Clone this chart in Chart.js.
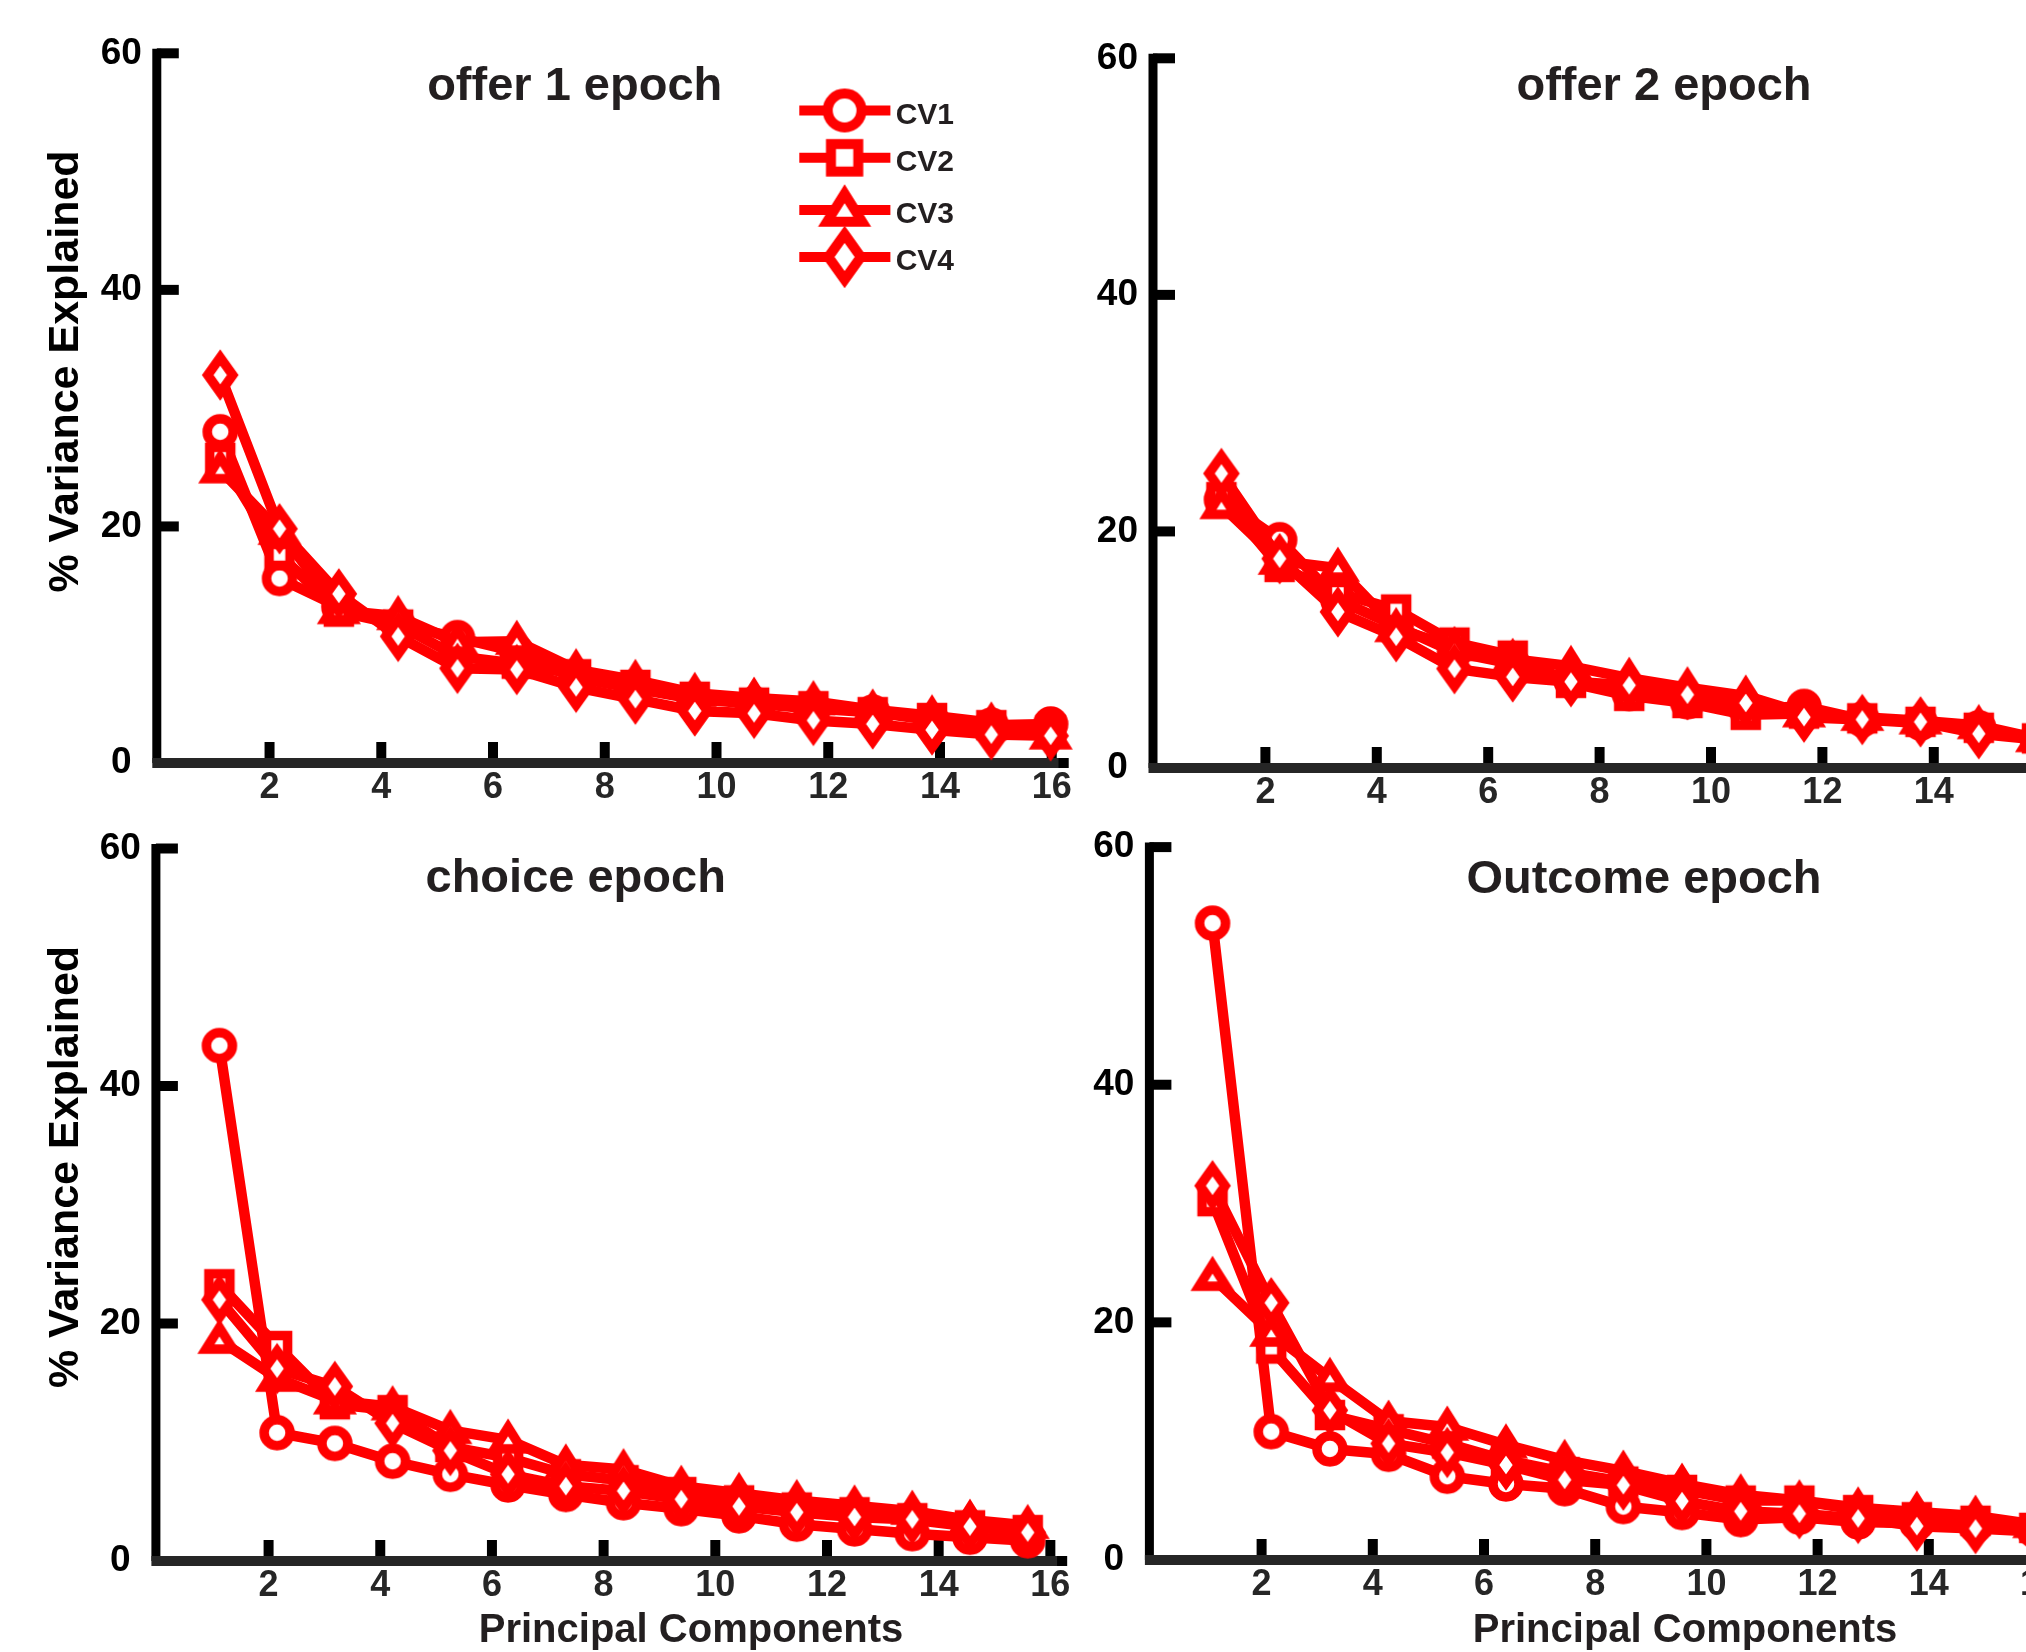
<!DOCTYPE html>
<html>
<head>
<meta charset="utf-8">
<title>% Variance Explained by Principal Components</title>
<script src="https://cdn.jsdelivr.net/npm/chart.js@4.4.1/dist/chart.umd.min.js"></script>
<style>
  html, body { margin: 0; padding: 0; background: #fff; overflow: hidden; }
  body { position: relative; width: 2026px; height: 1652px; }
  canvas { position: absolute; }
</style>
</head>
<body>
<canvas id="offer1"></canvas>
<canvas id="offer2"></canvas>
<canvas id="choice"></canvas>
<canvas id="outcome"></canvas>
<script>
// ---- data -------------------------------------------------------------
const components = [1, 2, 3, 4, 5, 6, 7, 8, 9, 10, 11, 12, 13, 14, 15];
const xTickLabels = [2, 4, 6, 8, 10, 12, 14, 16];
const yTickLabels = [0, 20, 40, 60];
const seriesNames = ['CV1', 'CV2', 'CV3', 'CV4'];

const offer1CV1 = [28.0, 15.6, 13.2, 11.7, 10.6, 9.4, 7.2, 6.3, 5.4, 5.0, 4.6, 4.3, 3.6, 3.2, 3.3];
const offer1CV2 = [25.8, 17.6, 12.8, 11.7, 9.0, 8.4, 7.5, 6.6, 5.6, 5.1, 4.8, 4.3, 3.8, 3.2, 2.8];
const offer1CV3 = [24.8, 19.6, 12.9, 12.4, 10.2, 10.3, 7.9, 7.0, 5.9, 5.5, 5.2, 4.5, 4.0, 3.4, 2.3];
const offer1CV4 = [32.8, 19.8, 14.3, 10.7, 8.0, 7.9, 6.4, 5.4, 4.4, 4.2, 3.6, 3.3, 2.8, 2.4, 2.3];

const offer2CV1 = [22.7, 19.3, 14.2, 12.0, 9.8, 8.8, 7.4, 6.3, 5.6, 5.0, 5.2, 4.1, 3.8, 3.4, 2.5];
const offer2CV2 = [22.9, 17.0, 14.8, 13.4, 10.6, 9.5, 7.2, 6.1, 5.5, 4.5, 4.6, 4.2, 3.9, 3.4, 2.5];
const offer2CV3 = [22.2, 17.5, 16.9, 11.8, 10.2, 9.2, 8.6, 7.6, 6.8, 6.1, 4.6, 4.3, 4.0, 3.6, 2.5];
const offer2CV4 = [24.9, 17.7, 13.2, 11.1, 8.4, 7.7, 7.3, 7.0, 6.2, 5.5, 4.3, 4.1, 3.9, 2.9, 2.4];

const choiceCV1 = [43.4, 10.8, 9.9, 8.4, 7.3, 6.4, 5.6, 4.9, 4.4, 3.8, 3.1, 2.7, 2.3, 2.0, 1.7];
const choiceCV2 = [23.3, 18.1, 13.2, 12.7, 9.6, 8.7, 7.3, 6.8, 5.8, 5.1, 4.5, 4.1, 3.6, 3.0, 2.6];
const choiceCV3 = [18.6, 15.4, 13.5, 13.0, 11.0, 10.2, 8.1, 7.7, 6.3, 5.7, 5.1, 4.65, 4.2, 3.45, 3.0];
const choiceCV4 = [22.0, 16.2, 14.7, 11.6, 9.3, 7.3, 6.3, 5.9, 5.2, 4.6, 4.1, 3.7, 3.5, 2.9, 2.4];

const outcomeCV1 = [53.6, 10.8, 9.35, 8.9, 7.05, 6.4, 6.0, 4.5, 4.0, 3.4, 3.6, 3.2, 3.1, 2.9, 2.5];
const outcomeCV2 = [30.2, 17.8, 12.2, 11.0, 9.8, 8.4, 7.4, 6.6, 5.9, 5.0, 5.0, 4.2, 3.6, 3.3, 2.7];
const outcomeCV3 = [23.8, 19.1, 15.3, 11.7, 11.2, 9.7, 8.4, 7.5, 6.4, 5.5, 5.0, 4.4, 4.05, 3.7, 3.0];
const outcomeCV4 = [31.5, 21.65, 12.6, 9.8, 9.05, 8.0, 6.75, 6.3, 4.95, 4.1, 3.9, 3.5, 2.85, 2.65, 2.4];

// ---- styling ----------------------------------------------------------
const RED = '#ff0000';
const FONT = '"Liberation Sans", Arial, Helvetica, sans-serif';
const markerShapes = ['circle', 'square', 'triangle', 'diamond'];

// White-filled, red-outlined markers in the style of the figure
function makeMarker(shape, scale, lw) {
  const size = Math.ceil(88 * scale / 2) * 2;
  const c = document.createElement('canvas');
  c.width = size; c.height = size;
  const g = c.getContext('2d');
  g.translate(size / 2, size / 2);
  g.lineWidth = lw;
  g.strokeStyle = RED;
  g.fillStyle = '#ffffff';
  g.lineJoin = 'miter';
  g.beginPath();
  if (shape === 'circle') {
    g.arc(0, 0, 13 * scale, 0, Math.PI * 2);
  } else if (shape === 'square') {
    g.rect(-10.5 * scale, -10.5 * scale, 21 * scale, 21 * scale);
  } else if (shape === 'triangle') {
    g.moveTo(0, -12.5 * scale);
    g.lineTo(13.5 * scale, 9 * scale);
    g.lineTo(-13.5 * scale, 9 * scale);
    g.closePath();
  } else {
    g.moveTo(0, -17.5 * scale);
    g.lineTo(12.5 * scale, 0);
    g.lineTo(0, 17.5 * scale);
    g.lineTo(-12.5 * scale, 0);
    g.closePath();
  }
  g.fill();
  g.stroke();
  return c;
}
const dataMarkers = markerShapes.map(s => makeMarker(s, 1, 9.5));
const legendMarkers = markerShapes.map(s => makeMarker(s, 1.3, 10));

// ---- axes, labels and legend drawn in the figure's own style -----------
const panelDecor = {
  id: 'panelDecor',
  beforeDatasetsDraw(chart, args, o) {
    const { ctx, chartArea } = chart;
    const xs = chart.scales.x, ys = chart.scales.y;
    const ax = xs.getPixelForValue(0) - 1;
    const y0 = ys.getPixelForValue(0);
    const yTop = ys.getPixelForValue(yTickLabels[yTickLabels.length - 1]);
    ctx.save();
    ctx.lineCap = 'butt';
    // vertical axis
    ctx.strokeStyle = '#000';
    ctx.lineWidth = 9;
    ctx.beginPath();
    ctx.moveTo(ax, yTop - 4.5);
    ctx.lineTo(ax, y0);
    ctx.stroke();
    // inward y ticks
    ctx.lineWidth = 10;
    yTickLabels.forEach(v => {
      const py = ys.getPixelForValue(v);
      ctx.beginPath();
      ctx.moveTo(ax, py);
      ctx.lineTo(ax + 22, py);
      ctx.stroke();
    });
    // inward x ticks
    xTickLabels.forEach(v => {
      const px = xs.getPixelForValue(v);
      ctx.beginPath();
      ctx.moveTo(px, y0);
      ctx.lineTo(px, y0 - 21);
      ctx.stroke();
    });
    // horizontal axis
    ctx.strokeStyle = '#262626';
    ctx.beginPath();
    ctx.moveTo(ax - 4.5, y0);
    ctx.lineTo(chartArea.right, y0);
    ctx.stroke();
    ctx.fillStyle = '#000';
    ctx.fillRect(chartArea.right - 10, y0 - 5, 10, 10);
    ctx.restore();
  },
  afterDraw(chart, args, o) {
    const { ctx } = chart;
    ctx.save();
    ctx.fillStyle = '#231f20';
    ctx.textBaseline = 'alphabetic';
    // panel title
    ctx.font = 'bold 47px ' + FONT;
    ctx.textAlign = 'center';
    ctx.fillText(o.title, o.titleX, o.titleBaseline);
    // x-axis title
    if (o.xLabel) {
      ctx.font = 'bold 40px ' + FONT;
      ctx.fillText(o.xLabel, o.xLabelX, o.xLabelBaseline);
    }
    // y-axis title
    if (o.yLabel) {
      ctx.save();
      ctx.fillStyle = '#000';
      ctx.font = 'bold 43px ' + FONT;
      ctx.translate(o.yLabelBaseline, o.yLabelY);
      ctx.rotate(-Math.PI / 2);
      ctx.fillText(o.yLabel, 0, 0);
      ctx.restore();
    }
    // legend
    if (o.legend) {
      const L = o.legend;
      ctx.font = 'bold 30px ' + FONT;
      ctx.textAlign = 'left';
      seriesNames.forEach((name, i) => {
        const ry = L.rows[i];
        ctx.strokeStyle = RED;
        ctx.lineWidth = 10;
        ctx.beginPath();
        ctx.moveTo(L.lineStart, ry);
        ctx.lineTo(L.lineEnd, ry);
        ctx.stroke();
        const m = legendMarkers[i];
        ctx.drawImage(m, L.markerX - m.width / 2, ry - m.height / 2);
        ctx.fillStyle = '#231f20';
        ctx.fillText(name, L.textX, ry + 13);
      });
    }
    ctx.restore();
  }
};

// ---- panel geometry (pixels within each canvas) -------------------------
const panels = [
  { id: 'offer1', left: 0, top: 0, width: 1100, height: 815,
    x0: 157.8, right: 1068.5, yTop: 53.3, yBottom: 763,
    pcStart: 1.117, pcStep: 1.0617,
    series: [offer1CV1, offer1CV2, offer1CV3, offer1CV4],
    decor: { title: 'offer 1 epoch', titleX: 574.7, titleBaseline: 100,
             yLabel: '% Variance Explained', yLabelBaseline: 77.5, yLabelY: 371.5,
             legend: { rows: [110.5, 157.8, 210, 257], lineStart: 799.3, lineEnd: 890.4,
                       markerX: 844.6, textX: 895.7 } } },
  { id: 'offer2', left: 1085, top: 0, width: 1000, height: 815,
    x0: 69, right: 976.9, yTop: 58.3, yBottom: 768,
    pcStart: 1.21, pcStep: 1.046,
    series: [offer2CV1, offer2CV2, offer2CV3, offer2CV4],
    decor: { title: 'offer 2 epoch', titleX: 1664 - 1085, titleBaseline: 100 } },
  { id: 'choice', left: 0, top: 815, width: 1100, height: 837,
    x0: 156.9, right: 1067.1, yTop: 33.5, yBottom: 746,
    pcStart: 1.119, pcStep: 1.034,
    series: [choiceCV1, choiceCV2, choiceCV3, choiceCV4],
    decor: { title: 'choice epoch', titleX: 575.7, titleBaseline: 892 - 815,
             yLabel: '% Variance Explained', yLabelBaseline: 77.5, yLabelY: 1167 - 815,
             xLabel: 'Principal Components', xLabelX: 691, xLabelBaseline: 1641.6 - 815 } },
  { id: 'outcome', left: 1085, top: 815, width: 1000, height: 837,
    x0: 65.4, right: 971.7, yTop: 32.1, yBottom: 745,
    pcStart: 1.117, pcStep: 1.0556,
    series: [outcomeCV1, outcomeCV2, outcomeCV3, outcomeCV4],
    decor: { title: 'Outcome epoch', titleX: 1644 - 1085, titleBaseline: 893 - 815,
             xLabel: 'Principal Components', xLabelX: 1685 - 1085, xLabelBaseline: 1641.6 - 815 } }
];

panels.forEach(p => {
  const canvas = document.getElementById(p.id);
  canvas.width = p.width;
  canvas.height = p.height;
  canvas.style.left = p.left + 'px';
  canvas.style.top = p.top + 'px';
  canvas.style.width = p.width + 'px';
  canvas.style.height = p.height + 'px';

  // each panel spreads its components along the shared 0–16 axis
  const xPos = components.map(c => p.pcStart + (c - 1) * p.pcStep);

  const datasets = p.series.map((vals, k) => ({
    label: seriesNames[k],
    data: vals.map((v, i) => ({ x: xPos[i], y: v })),
    borderColor: RED,
    backgroundColor: RED,
    borderWidth: 10.5,
    borderJoinStyle: 'round',
    pointStyle: dataMarkers[k],
    pointRadius: 5,
    pointHoverRadius: 5,
    tension: 0,
    fill: false,
    clip: false,
    order: seriesNames.length - 1 - k
  }));

  new Chart(canvas, {
    type: 'line',
    data: { datasets },
    plugins: [panelDecor],
    options: {
      responsive: false,
      animation: false,
      devicePixelRatio: 1,
      events: [],
      layout: { padding: { left: 0, top: p.yTop, right: p.width - p.right, bottom: 0 } },
      plugins: {
        legend: { display: false },
        title: { display: false },
        tooltip: { enabled: false },
        panelDecor: p.decor
      },
      scales: {
        x: {
          type: 'linear',
          min: 0,
          max: 16.3,
          grid: { display: false, drawTicks: false },
          border: { display: false },
          ticks: {
            autoSkip: false, maxRotation: 0, padding: 3,
            color: '#262626',
            font: { family: FONT, size: 36, weight: 'bold' }
          },
          afterBuildTicks: s => { s.ticks = xTickLabels.map(v => ({ value: v })); },
          afterFit: s => { s.height = p.height - p.yBottom; s.paddingLeft = 0; s.paddingRight = 0; }
        },
        y: {
          type: 'linear',
          min: 0,
          max: 60,
          grid: { display: false, drawTicks: false },
          border: { display: false },
          ticks: {
            autoSkip: false, padding: 16, crossAlign: 'center',
            color: '#000',
            font: { family: FONT, size: 37, weight: 'bold' }
          },
          afterBuildTicks: s => { s.ticks = yTickLabels.map(v => ({ value: v })); },
          afterFit: s => { s.width = p.x0; s.paddingTop = 0; s.paddingBottom = 0; }
        }
      }
    }
  });
});
</script>
</body>
</html>
